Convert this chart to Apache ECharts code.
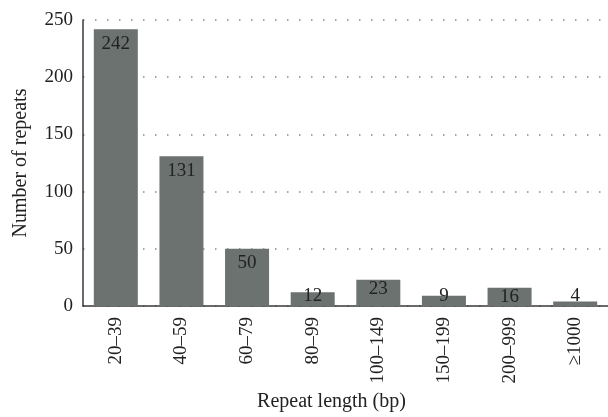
<!DOCTYPE html>
<html>
<head>
<meta charset="utf-8">
<script src="https://cdn.jsdelivr.net/npm/echarts@6/dist/echarts.min.js"></script>
<style>html,body{margin:0;padding:0;background:#fff}#c{width:608px;height:417px}</style>
</head>
<body>
<div id="c"></div>
<script>
var categories = ['20–39', '40–59', '60–79', '80–99', '100–149', '150–199', '200–999', '≥1000'];
var repeatCounts = [242, 131, 50, 12, 23, 9, 16, 4];
var yTicks = { min: 0, max: 250, interval: 50 };

var FONT = '"Liberation Serif", "DejaVu Serif", serif';

function labelFor(v) {
  if (v >= 40) return { position: 'insideTop', distance: 5 };
  if (v >= 16) return { position: 'insideTop', distance: 0 };
  return { position: 'insideBottom', distance: 0 };
}

var chart = echarts.init(document.getElementById('c'), null, { renderer: 'canvas' });
chart.setOption({
  animation: false,
  backgroundColor: '#fff',
  grid: { left: 83, width: 528, top: 20, bottom: 110.5, containLabel: false },
  xAxis: {
    type: 'category',
    data: categories,
    boundaryGap: true,
    axisLine: { show: true, lineStyle: { color: '#3a3a3a', width: 1.5 } },
    axisTick: { show: false },
    axisLabel: { rotate: 90, fontFamily: FONT, fontSize: 19, color: '#222', margin: 11 },
    name: 'Repeat length (bp)',
    nameLocation: 'middle',
    nameGap: 86,
    nameTextStyle: { fontFamily: FONT, fontSize: 20, color: '#222', padding: [0, 28, 0, 0] }
  },
  yAxis: {
    type: 'value',
    min: yTicks.min,
    max: yTicks.max,
    interval: yTicks.interval,
    axisLine: { show: true, lineStyle: { color: '#3a3a3a', width: 1.5 } },
    axisTick: { show: false },
    axisLabel: { fontFamily: FONT, fontSize: 19, color: '#222', margin: 10 },
    splitLine: { show: true, lineStyle: { color: '#8a8a8a', width: 1.5, type: [1.5, 10.5] } },
    name: 'Number of repeats',
    nameLocation: 'middle',
    nameGap: 52,
    nameTextStyle: { fontFamily: FONT, fontSize: 20, color: '#222' }
  },
  series: [{
    type: 'bar',
    barWidth: 44,
    itemStyle: { color: '#6b7270' },
    label: { show: true, fontFamily: FONT, fontSize: 19, color: '#222' },
    data: repeatCounts.map(function (v) {
      var l = labelFor(v);
      return { value: v, label: { position: l.position, distance: l.distance } };
    })
  }]
});
</script>
</body>
</html>
